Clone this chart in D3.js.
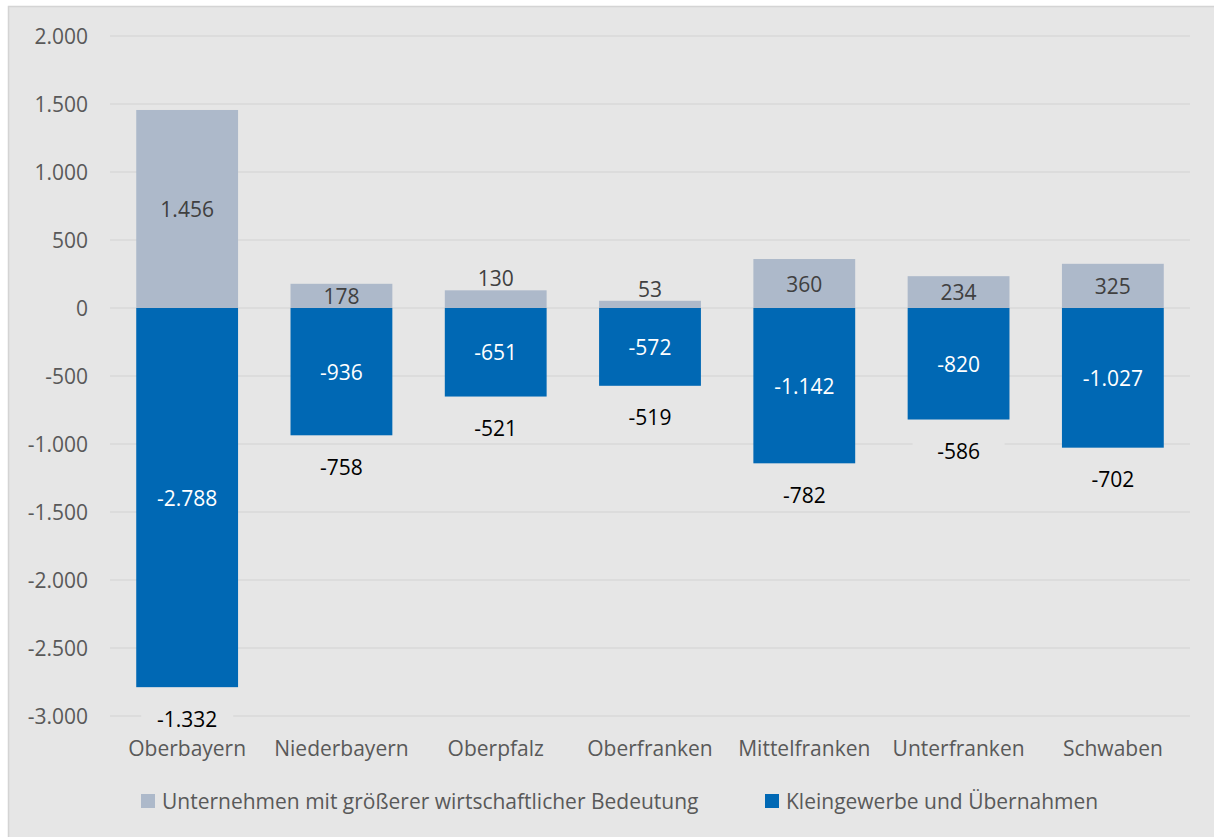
<!DOCTYPE html>
<html><head><meta charset="utf-8">
<script src="https://cdn.jsdelivr.net/npm/d3@7"></script>
<style>
body{margin:0;background:#fff;}
svg text{font-family:"Open Sans","Noto Sans",sans-serif;}
</style></head>
<body><svg id="c" width="1214" height="837"></svg>
<script>
const categories = ["Oberbayern","Niederbayern","Oberpfalz","Oberfranken","Mittelfranken","Unterfranken","Schwaben"];
const groesser = [1456, 178, 130, 53, 360, 234, 325];
const klein = [-2788, -936, -651, -572, -1142, -820, -1027];
const yTicks = [2000,1500,1000,500,0,-500,-1000,-1500,-2000,-2500,-3000];
const seriesNames = ["Unternehmen mit größerer wirtschaftlicher Bedeutung","Kleingewerbe und Übernahmen"];
const colors = ["#adb9ca","#0068b4"];

const FS = 21;
const FONT = "'Open Sans',sans-serif";
const fmt = v => { const s = Math.abs(v).toString().replace(/\B(?=(\d{3})+(?!\d))/g, "."); return (v<0?"-":"")+s; };

const svg = d3.select("#c");
svg.append("rect").attr("x",8.5).attr("y",6.5).attr("width",1214).attr("height",837)
  .attr("fill","#e6e6e6").attr("stroke","#d4d4d4").attr("stroke-width",1.5);

const x = d3.scaleBand().domain(categories).range([110,1190]).paddingInner(0.34).paddingOuter(0.17);
const y = d3.scaleLinear().domain([-3000,2000]).range([716,36]);

// grid
svg.append("g").selectAll("line").data(yTicks).join("line")
  .attr("x1",110).attr("x2",1190).attr("y1",d=>y(d)).attr("y2",d=>y(d))
  .attr("stroke","#d9d9d9").attr("stroke-width",1.5);

// y axis
const ya = svg.append("g").attr("transform","translate(88,0)")
  .call(d3.axisLeft(y).tickValues(yTicks).tickFormat(fmt).tickSize(0).tickPadding(0));
ya.select(".domain").remove();
ya.selectAll("text").attr("font-size",FS).attr("fill","#595959").attr("font-family",FONT).attr("dy","0.36em");

// x axis
const xa = svg.append("g").attr("transform","translate(0,741)")
  .call(d3.axisBottom(x).tickSize(0).tickPadding(0));
xa.select(".domain").remove();
xa.selectAll("text").attr("font-size",FS).attr("fill","#595959").attr("font-family",FONT).attr("dy","0.72em");

const data = categories.map((c,i)=>({c, p:groesser[i], n:klein[i], t:groesser[i]+klein[i]}));

// bars
svg.append("g").selectAll("rect").data(data).join("rect")
  .attr("x",d=>x(d.c)).attr("width",x.bandwidth())
  .attr("y",d=>y(d.p)).attr("height",d=>y(0)-y(d.p)).attr("fill",colors[0]);
svg.append("g").selectAll("rect").data(data).join("rect")
  .attr("x",d=>x(d.c)).attr("width",x.bandwidth())
  .attr("y",y(0)).attr("height",d=>y(d.n)-y(0)).attr("fill",colors[1]);

// positive labels
svg.append("g").selectAll("text").data(data).join("text")
  .attr("x",d=>x(d.c)+x.bandwidth()/2)
  .attr("y",d=>{const h=y(0)-y(d.p); return h<20 ? y(d.p)-12 : (y(0)+y(d.p))/2;})
  .attr("text-anchor","middle").attr("dy","0.38em").attr("font-size",FS).attr("fill","#404040")
  .text(d=>fmt(d.p));
// negative labels
svg.append("g").selectAll("text").data(data).join("text")
  .attr("x",d=>x(d.c)+x.bandwidth()/2).attr("y",d=>(y(0)+y(d.n))/2)
  .attr("text-anchor","middle").attr("dy","0.38em").attr("font-size",FS).attr("fill","#ffffff")
  .text(d=>fmt(d.n));
// net labels with background
const net = svg.append("g").selectAll("g").data(data).join("g")
  .attr("transform",d=>`translate(${x(d.c)+x.bandwidth()/2},${y(d.n)+32})`);
net.append("rect").attr("x",-46).attr("y",-12).attr("width",92).attr("height",24).attr("fill","#e6e6e6");
net.append("text").attr("text-anchor","middle").attr("dy","0.36em").attr("font-size",FS).attr("fill","#000")
  .text(d=>fmt(d.t));

// legend
const leg = svg.append("g").selectAll("g").data(seriesNames).join("g")
  .attr("transform",(d,i)=>`translate(${i===0?141:765},801)`);
leg.append("rect").attr("x",0).attr("y",-7).attr("width",14).attr("height",14).attr("fill",(d,i)=>colors[i]);
leg.append("text").attr("x",21).attr("dy","0.36em").attr("font-size",FS).attr("fill","#595959").text(d=>d);
</script></body></html>
